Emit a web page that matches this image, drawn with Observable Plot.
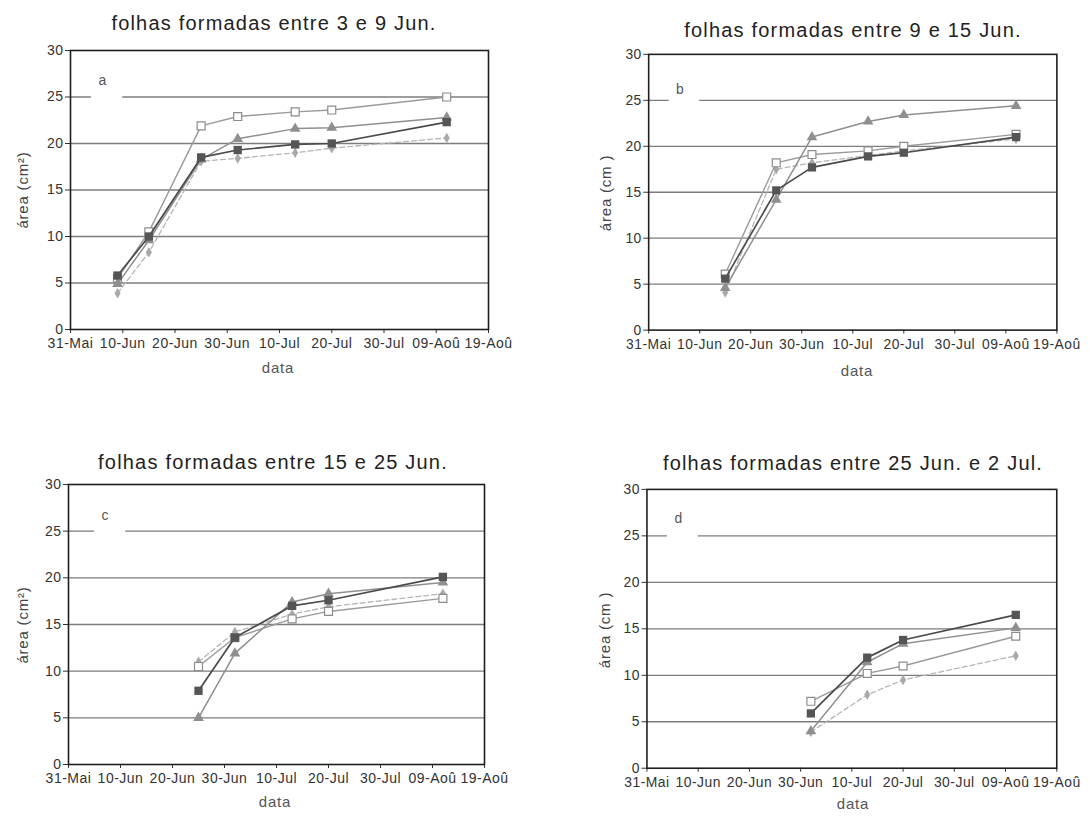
<!DOCTYPE html>
<html>
<head>
<meta charset="utf-8">
<script src="https://cdn.jsdelivr.net/npm/d3@7"></script>
<script src="https://cdn.jsdelivr.net/npm/@observablehq/plot@0.6"></script>
<style>
  body { margin: 0; background: #fff; }
  #page { position: relative; width: 1090px; height: 816px; overflow: hidden; background: #fff;
          font-family: "Liberation Sans", Arial, sans-serif; }
  .panel { position: absolute; }
  .titulo { position: absolute; transform: translate(-50%, -50%); white-space: nowrap;
            font-size: 20px; letter-spacing: 1.2px; color: #222; }
  .eixo-x { position: absolute; transform: translate(-50%, -50%); white-space: nowrap;
            font-size: 15px; letter-spacing: 0.8px; color: #555; line-height: 16px; }
  .eixo-y { position: absolute; transform: translate(-50%, -50%) rotate(-90deg); white-space: nowrap;
            font-size: 15px; letter-spacing: 0.8px; color: #444; line-height: 16px; }
</style>
</head>
<body>
<div id="page"></div>
<script>
// ---- eixo das datas ----
const tickDates = ["2000-05-31", "2000-06-10", "2000-06-20", "2000-06-30", "2000-07-10",
                   "2000-07-20", "2000-07-30", "2000-08-09", "2000-08-19"];
const tickLabels = ["31-Mai", "10-Jun", "20-Jun", "30-Jun", "10-Jul", "20-Jul", "30-Jul", "09-Aoû", "19-Aoû"];
const yTicks = [0, 5, 10, 15, 20, 25, 30];
const gridValues = [5, 10, 15, 20, 25];

const panelLetters = ["a", "b", "c", "d"];
const panelTitles = [
  "folhas formadas entre 3 e 9 Jun.",
  "folhas formadas entre 9 e 15 Jun.",
  "folhas formadas entre 15 e 25 Jun.",
  "folhas formadas entre 25 Jun. e 2 Jul."
];
const yLabels = ["área (cm²)", "área (cm )", "área (cm²)", "área (cm )"];
const xLabel = "data";

// ---- séries (área foliar, cm²) ----
const datasA = ["2000-06-09", "2000-06-15", "2000-06-25", "2000-07-02", "2000-07-13", "2000-07-20", "2000-08-11"];
const abertoA   = [5.5, 10.5, 21.9, 22.9, 23.4, 23.6, 25.0];
const trianguloA = [4.9, 9.6, 18.3, 20.5, 21.6, 21.7, 22.8];
const cheioA    = [5.8, 10.0, 18.5, 19.3, 19.9, 20.0, 22.3];
const losangoA  = [3.9, 8.3, 18.1, 18.4, 19.0, 19.5, 20.6];

const datasB = ["2000-06-15", "2000-06-25", "2000-07-02", "2000-07-13", "2000-07-20", "2000-08-11"];
const abertoB   = [6.1, 18.2, 19.1, 19.5, 20.0, 21.3];
const trianguloB = [4.6, 14.2, 21.0, 22.7, 23.4, 24.4];
const cheioB    = [5.6, 15.2, 17.7, 18.9, 19.3, 21.0];
const losangoB  = [4.1, 17.5, 18.2, 19.0, 19.5, 20.8];

const datasC = ["2000-06-25", "2000-07-02", "2000-07-13", "2000-07-20", "2000-08-11"];
const abertoC   = [10.5, 13.6, 15.6, 16.4, 17.8];
const trianguloC = [5.0, 11.9, 17.4, 18.3, 19.5];
const cheioC    = [7.9, 13.6, 17.0, 17.6, 20.1];
const losangoC  = [11.0, 14.2, 16.1, 16.9, 18.3];

const datasD = ["2000-07-02", "2000-07-13", "2000-07-20", "2000-08-11"];
const abertoD   = [7.2, 10.2, 11.0, 14.2];
const trianguloD = [4.0, 11.4, 13.4, 15.1];
const cheioD    = [5.9, 11.9, 13.8, 16.5];
const losangoD  = [3.9, 7.9, 9.5, 12.1];

// ---- construção ----
const parse = d3.utcParse("%Y-%m-%d");
const tickDateObjs = tickDates.map(parse);
const labelByTime = new Map(tickDateObjs.map((d, i) => [+d, tickLabels[i]]));

// aparência de cada série (ordem de desenho)
const estilos = [
  {key: "losango",   stroke: "#b5b5b5", dash: "5,3", symbol: "diamond", fill: "#a9a9a9", mstroke: "none", r: 3.2, sw: 1.3},
  {key: "aberto",    stroke: "#9a9a9a", dash: null,  symbol: "square",  fill: "#ffffff", mstroke: "#8c8c8c", r: 4.5, sw: 1.4},
  {key: "triangulo", stroke: "#8f8f8f", dash: null,  symbol: "triangle", fill: "#8f8f8f", mstroke: "none", r: 4.0, sw: 1.5},
  {key: "cheio",     stroke: "#4a4a4a", dash: null,  symbol: "square",  fill: "#555555", mstroke: "none", r: 4.7, sw: 1.7}
];

const paineis = [
  {datas: datasA, series: {aberto: abertoA, triangulo: trianguloA, cheio: cheioA, losango: losangoA},
   frame: {x0: 70, x1: 488, y0: 50, y1: 329}, tituloX: 274, tituloY: 23, dataX: 278, dataY: 368,
   yLabX: 23, yLabY: 190, caixa: "2000-06-04", letraY: 26.8},
  {datas: datasB, series: {aberto: abertoB, triangulo: trianguloB, cheio: cheioB, losango: losangoB},
   frame: {x0: 649, x1: 1062, y0: 54, y1: 333}, tituloX: 853, tituloY: 30, dataX: 857, dataY: 371,
   yLabX: 606, yLabY: 193, caixa: "2000-06-04", letraY: 26.2},
  {datas: datasC, series: {aberto: abertoC, triangulo: trianguloC, cheio: cheioC, losango: losangoC},
   frame: {x0: 68, x1: 484, y0: 484, y1: 764}, tituloX: 273, tituloY: 462, dataX: 275, dataY: 802,
   yLabX: 23, yLabY: 625, caixa: "2000-06-05", letraY: 26.7},
  {datas: datasD, series: {aberto: abertoD, triangulo: trianguloD, cheio: cheioD, losango: losangoD},
   frame: {x0: 647, x1: 1060, y0: 489, y1: 770}, tituloX: 853, tituloY: 463, dataX: 853, dataY: 804,
   yLabX: 605, yLabY: 630, caixa: "2000-06-04", letraY: 26.9}
];

const page = document.getElementById("page");
const ML = 72, MR = 34, MT = 12, MB = 28;
const DAY = 24 * 3600 * 1000;

function addText(cls, text, x, y) {
  const el = document.createElement("div");
  el.className = cls;
  el.textContent = text;
  el.style.left = x + "px";
  el.style.top = y + "px";
  page.appendChild(el);
}

paineis.forEach((p, k) => {
  const f = p.frame;
  const inicioCaixa = parse(p.caixa);
  const letra = [{x1: inicioCaixa, x2: new Date(+inicioCaixa + 6 * DAY), y: p.letraY, t: panelLetters[k]}];

  const marks = [
    Plot.ruleY(gridValues, {stroke: "#7d7d7d", strokeWidth: 1.3}),
    // fundo branco da etiqueta do painel, que interrompe a linha dos 25
    Plot.rect(letra, {x1: "x1", x2: "x2", y1: () => 24.3, y2: () => 25.7, fill: "#ffffff"}),
    Plot.text(letra, {x: "x1", y: "y", text: "t", textAnchor: "start", dx: 7, fontSize: 14, fill: "#555"})
  ];

  for (const s of estilos) {
    const vals = p.series[s.key];
    const rows = p.datas.map((d, i) => ({date: parse(d), value: vals[i]}));
    marks.push(Plot.line(rows, {x: "date", y: "value", stroke: s.stroke, strokeWidth: s.sw,
                                strokeDasharray: s.dash ?? undefined}));
    marks.push(Plot.dot(rows, {x: "date", y: "value", symbol: s.symbol, r: s.r, fill: s.fill,
                               stroke: s.mstroke, strokeWidth: 1.2}));
  }
  marks.push(Plot.frame({stroke: "#1e1e1e", strokeWidth: 1.6}));

  const chart = Plot.plot({
    width: (f.x1 - f.x0) + ML + MR,
    height: (f.y1 - f.y0) + MT + MB,
    marginLeft: ML, marginRight: MR, marginTop: MT, marginBottom: MB,
    style: {fontFamily: "'Liberation Sans', Arial, sans-serif", fontSize: "14px", color: "#333",
            letterSpacing: "0.5px", background: "transparent", overflow: "visible"},
    x: {type: "utc", domain: [tickDateObjs[0], tickDateObjs[tickDateObjs.length - 1]],
        ticks: tickDateObjs, tickFormat: d => labelByTime.get(+d), tickSize: 4, label: null},
    y: {domain: [0, 30], ticks: yTicks, tickFormat: d => String(d), tickSize: 5, tickPadding: 2, label: null},
    marks
  });
  const holder = document.createElement("div");
  holder.className = "panel";
  holder.style.left = (f.x0 - ML) + "px";
  holder.style.top = (f.y0 - MT) + "px";
  holder.appendChild(chart);
  page.appendChild(holder);

  addText("titulo", panelTitles[k], p.tituloX, p.tituloY);
  addText("eixo-x", xLabel, p.dataX, p.dataY);
  addText("eixo-y", yLabels[k], p.yLabX, p.yLabY);
});
</script>
</body>
</html>
